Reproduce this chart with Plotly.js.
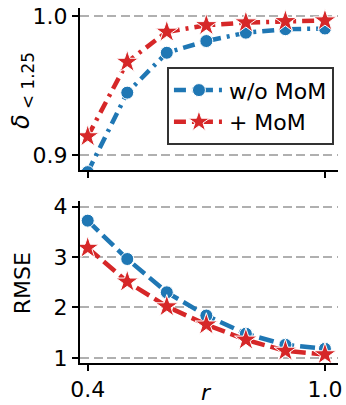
<!DOCTYPE html>
<html>
<head>
<meta charset="utf-8">
<script src="https://cdn.plot.ly/plotly-3.0.1.min.js"></script>
<style>html,body{margin:0;padding:0;background:#fff;}#chart{width:346px;height:405px;}</style>
</head>
<body>
<div id="chart"></div>
<script>
// Data
const r = [0.4, 0.5, 0.6, 0.7, 0.8, 0.9, 1.0];
const deltaWoMoM = [0.888, 0.945, 0.9736, 0.982, 0.988, 0.9905, 0.991];
const deltaMoM = [0.9136, 0.967, 0.9886, 0.9933, 0.9953, 0.9962, 0.9967];
const rmseWoMoM = [3.72, 2.96, 2.30, 1.84, 1.48, 1.26, 1.18];
const rmseMoM = [3.18, 2.51, 2.02, 1.66, 1.36, 1.14, 1.07];
const seriesNames = ['w/o MoM', '+ MoM'];
const xTicks = [0.4, 1.0];
const xTickText = ['0.4', '1.0'];
const deltaTicks = [0.9, 1.0];
const deltaTickText = ['0.9', '1.0'];
const rmseTicks = [1, 2, 3, 4];

const blue = '#1f77b4', red = '#d62728';
const font = 'DejaVu Sans, sans-serif';
const dashDot = '12px,6px,3px,6px';
const dashed = '15px,6px';

function tr(y, name, color, sym, size, dash, xa, ya, showleg) {
  return {
    x: r, y: y, name: name, type: 'scatter', mode: 'lines+markers',
    xaxis: xa, yaxis: ya, showlegend: showleg,
    line: {color: color, width: 4.5, dash: dash},
    marker: {symbol: sym, size: size, color: color, line: {color: '#fff', width: 1}},
    cliponaxis: true
  };
}

const data = [
  tr(deltaWoMoM, seriesNames[0], blue, 'circle', 13, dashDot, 'x', 'y', true),
  tr(deltaMoM, seriesNames[1], red, 'star', 17, dashDot, 'x', 'y', true),
  tr(rmseWoMoM, seriesNames[0], blue, 'circle', 13, dashed, 'x2', 'y2', false),
  tr(rmseMoM, seriesNames[1], red, 'star', 17, dashed, 'x2', 'y2', false)
];

const axBase = {
  showline: true, linecolor: '#000', linewidth: 2, mirror: false,
  ticks: 'outside', ticklen: 6, tickwidth: 2, tickcolor: '#000',
  tickfont: {family: font, size: 22, color: '#000'}, zeroline: false
};
const grid = {showgrid: true, gridcolor: '#b0b0b0', gridwidth: 2, griddash: '9px,4.5px'};

const layout = {
  width: 346, height: 405,
  margin: {l: 80, r: 8, t: 8, b: 42},
  paper_bgcolor: '#fff', plot_bgcolor: '#fff',
  font: {family: font, color: '#000'},
  xaxis: Object.assign({}, axBase, {domain: [0, 1], range: [0.3805, 1.033], tickvals: xTicks, ticktext: xTickText, showticklabels: false, showgrid: false, anchor: 'y'}),
  yaxis: Object.assign({}, axBase, grid, {domain: [0.544, 1], range: [0.8896, 1.0057], tickvals: deltaTicks, ticktext: deltaTickText, anchor: 'x'}),
  xaxis2: Object.assign({}, axBase, {domain: [0, 1], range: [0.3805, 1.033], tickvals: xTicks, ticktext: xTickText, showgrid: false, anchor: 'y2'}),
  yaxis2: Object.assign({}, axBase, grid, {domain: [0, 0.455], range: [0.9, 4.1], tickvals: rmseTicks, anchor: 'x2'}),
  legend: {
    x: 0.337, y: 0.833, xanchor: 'left', yanchor: 'top',
    bgcolor: '#fff', bordercolor: '#333', borderwidth: 2,
    font: {family: font, size: 22, color: '#000'},
    itemwidth: 50, tracegroupgap: 0
  },
  annotations: [
    {text: '<i>r</i>', xref: 'x2', yref: 'paper', x: 0.7, y: -0.0836, showarrow: false, yanchor: 'middle', xanchor: 'center', font: {family: font, size: 22, color: '#000'}},
    {text: 'RMSE', xref: 'paper', yref: 'paper', x: -0.225, y: 0.2246, textangle: -90, showarrow: false, xanchor: 'center', yanchor: 'middle', font: {family: font, size: 22, color: '#000'}},
    {text: '<i>δ</i><sub> &lt; 1.25</sub>', xref: 'paper', yref: 'paper', x: -0.225, y: 0.769, textangle: -90, showarrow: false, xanchor: 'center', yanchor: 'middle', font: {family: font, size: 24, color: '#000'}}
  ]
};

Plotly.newPlot('chart', data, layout, {displayModeBar: false, staticPlot: true});
</script>
</body>
</html>
